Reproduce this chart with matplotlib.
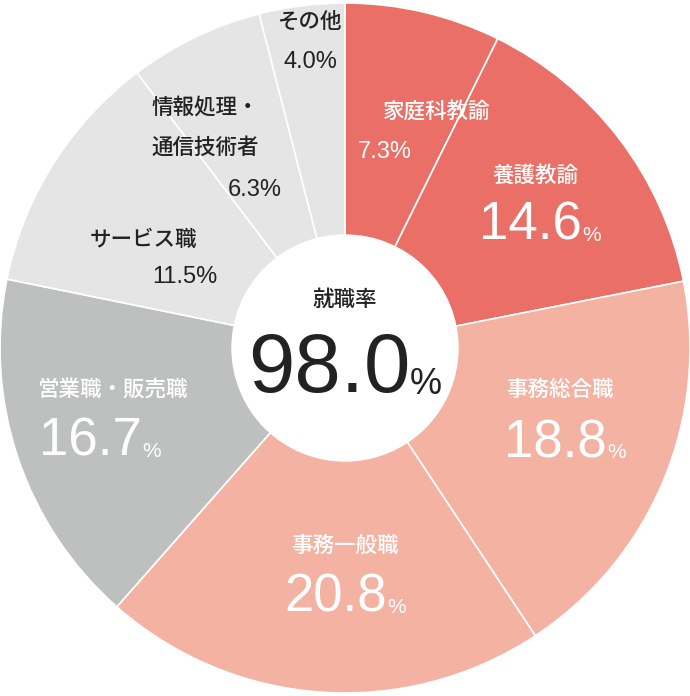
import matplotlib
matplotlib.use("Agg")
import matplotlib.pyplot as plt
from matplotlib.patches import Circle

categories = ["家庭科教諭", "養護教諭", "事務総合職", "事務一般職", "営業職・販売職", "サービス職", "情報処理・\n通信技術者", "その他"]
values = [7.3, 14.6, 18.8, 20.8, 16.7, 11.5, 6.3, 4.0]
colors = ["#EA6F67", "#EA6F67", "#F3B2A2", "#F3B2A2", "#BEC0BF", "#E5E5E5", "#E5E5E5", "#E5E5E5"]
center_label = "就職率"
center_value = "98.0"

plt.rcParams["font.family"] = "Noto Sans CJK JP"
W, H = 690, 696
fig = plt.figure(figsize=(6.9, 6.96), dpi=100)
ax = fig.add_axes([0, 0, 1, 1])
ax.set_xlim(0, W); ax.set_ylim(0, H); ax.set_aspect("equal"); ax.axis("off")
cx, cy, R = 345, H - 348, 345
ax.pie(values, colors=colors, startangle=90, counterclock=False, center=(cx, cy), radius=R,
       wedgeprops=dict(edgecolor="white", linewidth=1.2), frame=True)
ax.set_xlim(0, W); ax.set_ylim(0, H); ax.axis("off")
ax.add_patch(Circle((cx, cy), 113, color="white", zorder=5))

renderer = fig.canvas.get_renderer()

def txt(x, y, s, size, color, ha="center", **kw):
    kw.setdefault("fontweight", 500)
    return ax.text(x, H - y, s, fontsize=size, color=color, ha=ha, va="center", zorder=6, **kw)

def big(x, y, num, size, psize, color):
    t = txt(0, y, num, size, color, ha="left", family="Liberation Sans", fontweight="normal")
    p = txt(0, y, "%", psize, color, ha="left", family="Liberation Sans", fontweight="normal")
    wt = t.get_window_extent(renderer).width
    wp = p.get_window_extent(renderer).width
    x0 = x - (wt + wp) / 2
    t.set_x(x0)
    p.set_x(x0 + wt)
    p.set_y(H - y - size * 0.42 + psize * 0.42)

LS, NS, BS = 15.5, 17, 38
txt(310, 22, "その他", LS, "#222222")
txt(310, 62, "4.0%", NS, "#222222", family="Liberation Sans", fontweight="normal")
txt(437, 112, categories[0], LS, "white")
txt(358, 152, "7.3%", NS, "white", ha="left", family="Liberation Sans", fontweight="normal")
txt(535, 176, categories[1], LS, "white")
big(540, 226, "14.6", BS, 15, "white")
txt(560, 390, categories[2], LS, "white")
big(565, 443, "18.8", BS, 15, "white")
txt(345, 546, categories[3], LS, "white")
big(345, 598, "20.8", BS, 15, "white")
txt(112, 390, categories[4], LS, "white")
big(100, 442, "16.7", BS, 15, "white")
txt(143, 240, categories[5], LS, "#222222")
txt(217, 277, "11.5%", NS, "#222222", ha="right", family="Liberation Sans", fontweight="normal")
txt(205, 108, "情報処理・", LS, "#222222")
txt(205, 148, "通信技術者", LS, "#222222")
txt(282, 190, "6.3%", NS, "#222222", ha="right", family="Liberation Sans", fontweight="normal")
txt(345, 300, center_label, LS, "#222222")
big(345, 370, center_value, 60, 26, "#222222")

fig.savefig("out.png", dpi=100)
